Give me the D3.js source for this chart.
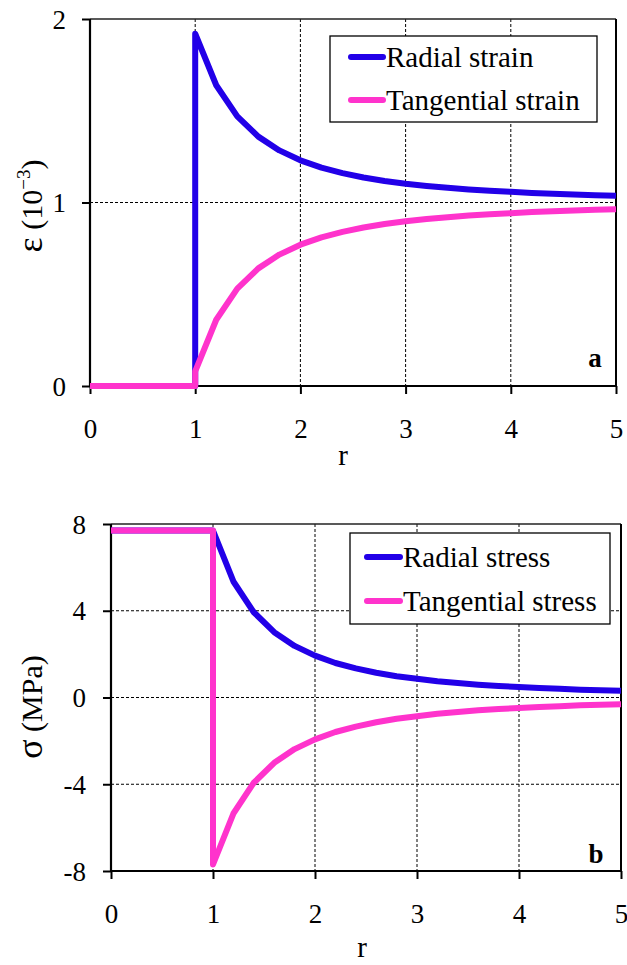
<!DOCTYPE html>
<html>
<head>
<meta charset="utf-8">
<script src="https://cdn.jsdelivr.net/npm/d3@7"></script>
<style>
html,body{margin:0;padding:0;background:#fff;}
svg{display:block;}
svg text{font-family:"Liberation Serif","Times New Roman",Times,serif !important;}
</style>
</head>
<body>
<svg id="chart" width="627" height="965"></svg>
<script>
// radius values (r < 1 region, then the jump at r = 1, then r = 1.2 ... 5)
const rValues = [0, 1, 1, 1.2, 1.4, 1.6, 1.8, 2.0, 2.2, 2.4, 2.6, 2.8, 3.0, 3.2, 3.4, 3.6, 3.8, 4.0, 4.2, 4.4, 4.6, 4.8, 5.0];

// panel a: strain (10^-3)
const radialStrain     = [0, 0, 1.920, 1.639, 1.469, 1.359, 1.284, 1.230, 1.190, 1.160, 1.136, 1.117, 1.102, 1.090, 1.080, 1.071, 1.064, 1.058, 1.052, 1.048, 1.043, 1.040, 1.037];
const tangentialStrain = [0, 0, 0.080, 0.361, 0.531, 0.641, 0.716, 0.770, 0.810, 0.840, 0.864, 0.883, 0.898, 0.910, 0.920, 0.929, 0.936, 0.942, 0.948, 0.952, 0.957, 0.960, 0.963];

// panel b: stress (MPa)
const radialStress     = [7.7, 7.7, 7.70, 5.35, 3.93, 3.01, 2.38, 1.93, 1.59, 1.34, 1.14, 0.98, 0.86, 0.75, 0.67, 0.59, 0.53, 0.48, 0.44, 0.40, 0.36, 0.33, 0.31];
const tangentialStress = [7.7, 7.7, -7.70, -5.35, -3.93, -3.01, -2.38, -1.93, -1.59, -1.34, -1.14, -0.98, -0.86, -0.75, -0.67, -0.59, -0.53, -0.48, -0.44, -0.40, -0.36, -0.33, -0.31];

const xTicks = [0, 1, 2, 3, 4, 5];
const yTicksA = [0, 1, 2];
const yTicksB = [-8, -4, 0, 4, 8];
const legendA = ["Radial strain", "Tangential strain"];
const legendB = ["Radial stress", "Tangential stress"];

const BLUE = "#2200e8", PINK = "#ff33cc";
const FONT = "'Liberation Serif', 'Times New Roman', Times, serif";
const svg = d3.select("#chart");

function panel(cfg) {
  const x = d3.scaleLinear().domain([0, 5]).range([cfg.x0, cfg.x1]);
  const y = d3.scaleLinear().domain(cfg.yDomain).range([cfg.yBottom, cfg.yTop]);
  const g = svg.append("g").attr("font-family", FONT);

  // grid lines (vertical)
  g.selectAll(".gx").data(xTicks.filter(d => d > 0 && d < 5)).enter().append("line")
    .attr("x1", d => x(d)).attr("x2", d => x(d))
    .attr("y1", cfg.yTop).attr("y2", cfg.yBottom)
    .attr("stroke", "#000").attr("stroke-width", 1).attr("stroke-dasharray", "3,2");
  // grid lines (horizontal)
  g.selectAll(".gy").data(cfg.yTicks.filter(d => d > cfg.yDomain[0] && d < cfg.yDomain[1])).enter().append("line")
    .attr("y1", d => y(d)).attr("y2", d => y(d))
    .attr("x1", cfg.x0).attr("x2", cfg.x1)
    .attr("stroke", "#000").attr("stroke-width", 1).attr("stroke-dasharray", "3,2");

  // top and right border
  g.append("line").attr("x1", cfg.x0).attr("x2", cfg.x1).attr("y1", cfg.yTop).attr("y2", cfg.yTop)
    .attr("stroke", "#222").attr("stroke-width", 1.5);
  g.append("line").attr("x1", cfg.x1).attr("x2", cfg.x1).attr("y1", cfg.yTop).attr("y2", cfg.yBottom)
    .attr("stroke", "#000").attr("stroke-width", 2);

  // axes
  const xAxis = d3.axisBottom(x).tickValues(xTicks).tickSize(8).tickFormat(d3.format("d"));
  const yAxis = d3.axisLeft(y).tickValues(cfg.yTicks).tickSize(8).tickFormat(d => d < 0 ? "-" + Math.abs(d) : String(d));
  const gx = g.append("g").attr("transform", `translate(0,${cfg.yBottom})`).call(xAxis);
  const gy = g.append("g").attr("transform", `translate(${cfg.x0},0)`).call(yAxis);
  [gx, gy].forEach(a => {
    a.attr("font-family", FONT).attr("font-size", 27);
    a.select(".domain").attr("stroke", "#000").attr("stroke-width", 2.2);
    a.selectAll(".tick line").attr("stroke", "#000").attr("stroke-width", 2);
    a.selectAll("text").attr("fill", "#000");
  });
  gx.select(".domain").attr("d", `M${cfg.x0},0H${cfg.x1}`);
  gy.select(".domain").attr("d", `M0,${cfg.yBottom}V${cfg.yTop}`);
  gx.selectAll(".tick text").attr("y", cfg.xLabelBase - cfg.yBottom).attr("dy", null);
  gy.selectAll(".tick text").attr("x", cfg.yLabelEnd - cfg.x0).attr("dy", "0.34em");

  // lines
  const line = d3.line().x((d, i) => x(rValues[i])).y(d => y(d));
  g.append("path").datum(cfg.s1).attr("d", line).attr("fill", "none")
    .attr("stroke", BLUE).attr("stroke-width", 6).attr("stroke-linejoin", "round");
  g.append("path").datum(cfg.s2).attr("d", line).attr("fill", "none")
    .attr("stroke", PINK).attr("stroke-width", 6).attr("stroke-linejoin", "round");

  // legend
  const L = cfg.legend;
  g.append("rect").attr("x", L.x).attr("y", L.y).attr("width", L.w).attr("height", L.h)
    .attr("fill", "#fff").attr("stroke", "#000").attr("stroke-width", 1.3);
  [BLUE, PINK].forEach((c, i) => {
    g.append("line").attr("x1", L.sx0).attr("x2", L.sx1).attr("y1", L.rows[i]).attr("y2", L.rows[i])
      .attr("stroke", c).attr("stroke-width", 6).attr("stroke-linecap", "round");
    g.append("text").attr("x", L.tx).attr("y", L.base[i]).attr("font-size", 29).text(cfg.names[i]);
  });

  // panel letter
  g.append("text").attr("x", cfg.letterX).attr("y", cfg.letterY).attr("text-anchor", "middle")
    .attr("font-size", 27).attr("font-weight", "bold").text(cfg.letter);

  // x title
  g.append("text").attr("x", cfg.rX).attr("y", cfg.rY).attr("text-anchor", "middle")
    .attr("font-size", 29).text("r");

  // y title
  const t = g.append("text").attr("transform", `translate(${cfg.tX},${cfg.tY}) rotate(-90)`)
    .attr("text-anchor", "middle").attr("font-size", 30);
  cfg.title(t);
}

panel({
  x0: 90, x1: 616, yTop: 19, yBottom: 386, yDomain: [0, 2], yTicks: yTicksA,
  xLabelBase: 438, yLabelEnd: 66,
  s1: radialStrain, s2: tangentialStrain, names: legendA,
  legend: {x: 330, y: 36, w: 267, h: 86, sx0: 351, sx1: 383, rows: [57, 100], tx: 386, base: [67, 110]},
  letter: "a", letterX: 595, letterY: 367,
  rX: 343, rY: 465,
  tX: 42, tY: 206,
  title: t => {
    t.append("tspan").attr("font-size", 36).text("ε");
    t.append("tspan").text(" (10");
    t.append("tspan").attr("font-size", 19).attr("dy", -12).text("−3");
    t.append("tspan").attr("dy", 12).text(")");
  }
});

panel({
  x0: 111, x1: 621, yTop: 524, yBottom: 871, yDomain: [-8, 8], yTicks: yTicksB,
  xLabelBase: 923, yLabelEnd: 86,
  s1: radialStress, s2: tangentialStress, names: legendB,
  legend: {x: 350, y: 533, w: 260, h: 91, sx0: 367, sx1: 400, rows: [557, 601], tx: 403, base: [567, 611]},
  letter: "b", letterX: 596, letterY: 863,
  rX: 362, rY: 957,
  tX: 42, tY: 707,
  title: t => {
    t.append("tspan").attr("font-size", 36).text("σ");
    t.append("tspan").text(" (MPa)");
  }
});
</script>
</body>
</html>
